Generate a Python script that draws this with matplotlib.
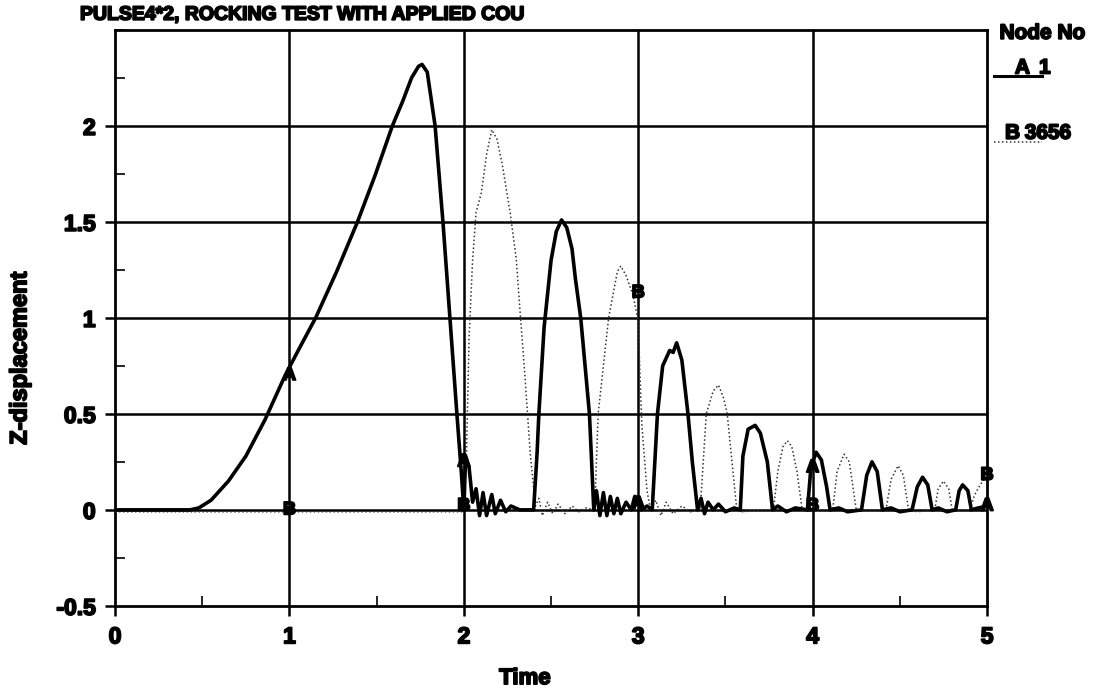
import numpy as np
import matplotlib
matplotlib.use("Agg")
import matplotlib.pyplot as plt
import matplotlib.patheffects as pe
from matplotlib.lines import Line2D
from matplotlib.ticker import MultipleLocator

plt.rcParams['font.family'] = ['Liberation Sans', 'DejaVu Sans']
plt.rcParams['font.weight'] = 'bold'

# node A (node 1), solid thick curve
time_a = [0, 0.43, 0.48, 0.55, 0.65, 0.75, 0.86, 0.975, 1.05, 1.15, 1.27, 1.39, 1.49,
          1.59, 1.65, 1.70, 1.74, 1.76, 1.79, 1.835, 1.88, 1.92, 1.96, 1.985, 2.0, 2.01,
          2.03, 2.05, 2.07, 2.09, 2.11, 2.13, 2.16, 2.18, 2.21, 2.24, 2.27, 2.32, 2.40,
          2.42, 2.43, 2.46, 2.50, 2.53, 2.56, 2.59, 2.62, 2.64, 2.67, 2.72, 2.745, 2.76,
          2.78, 2.80, 2.82, 2.84, 2.86, 2.88, 2.90, 2.93, 2.96, 2.98, 3.0, 3.02, 3.05,
          3.08, 3.11, 3.14, 3.18, 3.20, 3.22, 3.25, 3.285, 3.31, 3.34, 3.36, 3.38, 3.40,
          3.43, 3.46, 3.50, 3.55, 3.585, 3.60, 3.63, 3.67, 3.70, 3.74, 3.77, 3.80, 3.85,
          3.90, 3.97, 3.99, 4.02, 4.05, 4.08, 4.10, 4.15, 4.20, 4.28, 4.31, 4.34, 4.37,
          4.40, 4.45, 4.50, 4.57, 4.60, 4.63, 4.66, 4.685, 4.72, 4.77, 4.82, 4.84, 4.86,
          4.89, 4.91, 4.95, 5.0]
disp_a = [0, 0, 0.01, 0.05, 0.15, 0.28, 0.47, 0.70, 0.83, 1.0, 1.24, 1.5, 1.74,
          2.0, 2.13, 2.25, 2.31, 2.32, 2.28, 2.0, 1.5, 1.0, 0.5, 0.2, 0.0, 0.28,
          0.22, 0.04, 0.11, -0.03, 0.09, -0.03, 0.08, -0.02, 0.05, -0.01, 0.02, 0.0, 0.0,
          0.3, 0.5, 0.95, 1.3, 1.45, 1.51, 1.47, 1.36, 1.2, 1.0, 0.5, 0.0, 0.1,
          -0.03, 0.09, -0.03, 0.07, -0.02, 0.06, -0.02, 0.04, 0.0, 0.07, 0.06, 0.0, 0.02,
          0.0, 0.5, 0.75, 0.83, 0.82, 0.87, 0.78, 0.5, 0.25, 0.0, 0.06, -0.02, 0.04,
          0.0, 0.03, -0.01, 0.01, 0.0, 0.28, 0.42, 0.44, 0.40, 0.25, 0.0, 0.02, -0.01,
          0.01, 0.0, 0.22, 0.30, 0.26, 0.12, 0.0, 0.01, -0.01, 0.0, 0.18, 0.25, 0.2,
          0.0, 0.01, -0.01, 0.0, 0.12, 0.17, 0.13, 0.0, 0.01, -0.01, 0.0, 0.1, 0.13,
          0.1, 0.0, 0.01, 0.02]

# node B (node 3656), dotted curve
time_b = [0, 2.0, 2.015, 2.03, 2.05, 2.07, 2.10, 2.13, 2.16, 2.19, 2.22, 2.265, 2.30,
          2.32, 2.35, 2.38, 2.41, 2.43, 2.45, 2.48, 2.51, 2.54, 2.58, 2.62, 2.66, 2.70,
          2.75, 2.77, 2.83, 2.88, 2.90, 2.93, 2.97, 3.0, 3.01, 3.02, 3.05, 3.07, 3.10,
          3.13, 3.16, 3.20, 3.25, 3.30, 3.355, 3.39, 3.43, 3.46, 3.49, 3.51, 3.565, 3.60,
          3.70, 3.775, 3.80, 3.83, 3.855, 3.88, 3.91, 3.94, 4.0, 4.115, 4.14, 4.18, 4.21,
          4.25, 4.30, 4.42, 4.45, 4.49, 4.52, 4.55, 4.60, 4.70, 4.72, 4.75, 4.78, 4.80,
          4.90, 4.93, 4.96, 5.0]
disp_b = [-0.01, -0.01, 0.3, 0.9, 1.3, 1.55, 1.65, 1.85, 1.98, 1.93, 1.80, 1.55, 1.31,
          1.06, 0.7, 0.3, 0.02, 0.06, -0.03, 0.04, -0.02, 0.03, -0.02, 0.02, -0.01, 0.01,
          0.0, 0.5, 1.0, 1.24, 1.27, 1.22, 1.12, 0.98, 0.7, 0.45, 0.1, 0.0, 0.05,
          -0.03, 0.04, -0.02, 0.02, -0.01, 0.0, 0.5, 0.62, 0.65, 0.58, 0.5, 0.0, -0.01,
          0.0, 0.0, 0.2, 0.33, 0.36, 0.33, 0.2, 0.0, 0.0, 0.0, 0.2, 0.29, 0.25,
          0.0, 0.0, 0.0, 0.16, 0.23, 0.18, 0.0, -0.01, 0.0, 0.11, 0.15, 0.11, 0.0,
          0.0, 0.08, 0.13, 0.18]

# curve letter markers
mark_t = [1, 2, 3, 4, 5]
mark_a = [0.70, 0.25, 0.03, 0.22, 0.02]
mark_b = [0.0, 0.02, 1.13, 0.02, 0.18]

x_ticks = [0, 1, 2, 3, 4, 5]
y_ticks = [-0.5, 0, 0.5, 1, 1.5, 2]
y_ticklabels = ['-0.5', '0', '0.5', '1', '1.5', '2']

# heavy look for all the text
heavy = [pe.withStroke(linewidth=1.3, foreground='black')]

fig = plt.figure(figsize=(10.96, 6.94), dpi=100)
ax = fig.add_axes([0.105, 0.127, 0.7956, 0.83])

ax.plot(time_a, disp_a, color='black', lw=2.6, solid_joinstyle='round', zorder=4)
ax.plot(time_b, disp_b, color='#333333', lw=1.1, linestyle=(0, (1, 1.6)), zorder=3)

for t, va, vb in zip(mark_t, mark_a, mark_b):
    ax.text(t, va, 'A', ha='center', va='center', fontsize=13, fontweight='bold',
            zorder=5, path_effects=heavy)
    ax.text(t, vb, 'B', ha='center', va='center', fontsize=13, fontweight='bold',
            zorder=5, path_effects=heavy)

ax.set_xlim(0, 5)
ax.set_ylim(-0.5, 2.5)
ax.set_xticks(x_ticks)
ax.set_xticklabels([str(v) for v in x_ticks])
ax.set_yticks(y_ticks)
ax.set_yticklabels(y_ticklabels)
ax.xaxis.set_minor_locator(MultipleLocator(0.5))
ax.yaxis.set_minor_locator(MultipleLocator(0.25))
ax.tick_params(which='major', direction='out', length=7, width=1.8, labelsize=16.5, pad=7)
ax.tick_params(which='minor', direction='in', length=7, width=1.2)
for lab in ax.get_xticklabels() + ax.get_yticklabels():
    lab.set_fontweight('bold')
    lab.set_path_effects(heavy)

# grid at the major values only (not at the bottom axis)
for t in [1, 2, 3, 4]:
    ax.axvline(t, color='black', lw=1.8, zorder=2)
for v in [0, 0.5, 1, 1.5, 2]:
    ax.axhline(v, color='black', lw=1.8, zorder=2)
for sp in ax.spines.values():
    sp.set_linewidth(2)

ax.set_xlabel('Time', fontsize=16, fontweight='bold', path_effects=heavy)
ax.set_ylabel('Z-displacement', fontsize=17, fontweight='bold', path_effects=heavy)
ax.xaxis.set_label_coords(0.47, -0.108)
ax.yaxis.set_label_coords(-0.096, 0.43)

fig.text(0.073, 0.978, 'PULSE4*2, ROCKING TEST WITH APPLIED COU', fontsize=14,
         fontweight='bold', ha='left', va='center', path_effects=heavy)

# legend on the right
fs_leg = 15
fig.text(0.912, 0.952, 'Node No', fontsize=fs_leg, fontweight='bold', ha='left',
         va='center', path_effects=heavy)
fig.text(0.926, 0.902, 'A', fontsize=fs_leg, fontweight='bold', ha='left', va='center',
         path_effects=heavy)
fig.text(0.948, 0.902, '1', fontsize=fs_leg, fontweight='bold', ha='left', va='center',
         path_effects=heavy)
fig.text(0.917, 0.808, 'B', fontsize=fs_leg, fontweight='bold', ha='left', va='center',
         path_effects=heavy)
fig.text(0.935, 0.808, '3656', fontsize=fs_leg, fontweight='bold', ha='left', va='center',
         path_effects=heavy)
fig.add_artist(Line2D([0.907, 0.951], [0.891, 0.891], color='black', lw=2.2))
fig.add_artist(Line2D([0.907, 0.951], [0.795, 0.795], color='#333333', lw=1.1,
                      linestyle=(0, (1, 1.6))))

fig.savefig('out.png', dpi=100)
